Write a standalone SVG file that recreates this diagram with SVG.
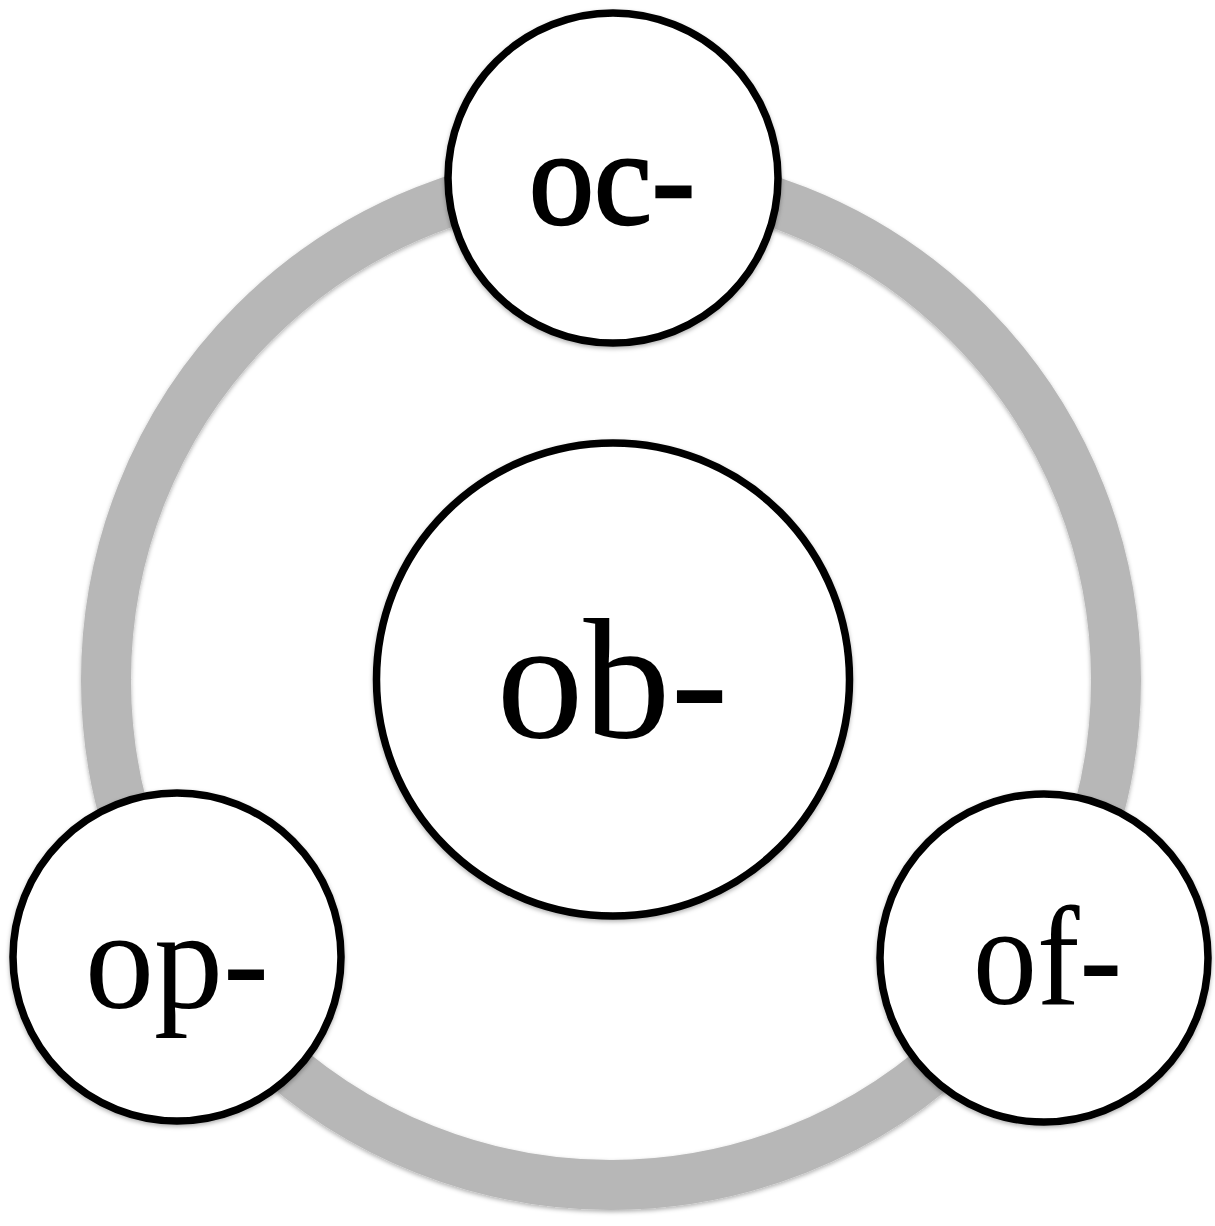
<svg xmlns="http://www.w3.org/2000/svg" width="1215" height="1226" viewBox="0 0 1215 1226">
  <defs>
    <filter id="sh" x="-10%" y="-10%" width="120%" height="120%">
      <feDropShadow dx="0" dy="2" stdDeviation="2" flood-color="#000" flood-opacity="0.3"/>
    </filter>
    <style>
      .ring { fill: none; stroke: #b7b7b7; stroke-width: 50; }
      .node circle { fill: #ffffff; stroke: #000000; stroke-width: 7.5; }
      .node text { font-family: "Liberation Serif", "Times New Roman", serif; fill: #000000; text-anchor: middle; }
    </style>
  </defs>
  <rect width="1215" height="1226" fill="#ffffff"/>
  <g id="connectors">
    <circle class="ring" cx="611" cy="680" r="505" filter="url(#sh)"/>
  </g>
  <g id="node-ob" class="node">
    <circle cx="613" cy="679.5" r="236.5" filter="url(#sh)"/>
    <text x="612.5" y="737" font-size="172" textLength="232" lengthAdjust="spacingAndGlyphs">ob-</text>
  </g>
  <g id="node-oc" class="node">
    <circle cx="613" cy="178" r="165" filter="url(#sh)"/>
    <text x="612" y="224" font-size="136" stroke="#000" stroke-width="2.5" textLength="166" lengthAdjust="spacingAndGlyphs">oc-</text>
  </g>
  <g id="node-op" class="node">
    <circle cx="177" cy="957" r="164" filter="url(#sh)"/>
    <text x="177" y="1008" font-size="142" textLength="184" lengthAdjust="spacingAndGlyphs">op-</text>
  </g>
  <g id="node-of" class="node">
    <circle cx="1044" cy="958" r="164" filter="url(#sh)"/>
    <text x="1047.5" y="1004" font-size="142" textLength="149" lengthAdjust="spacingAndGlyphs">of-</text>
  </g>
</svg>
